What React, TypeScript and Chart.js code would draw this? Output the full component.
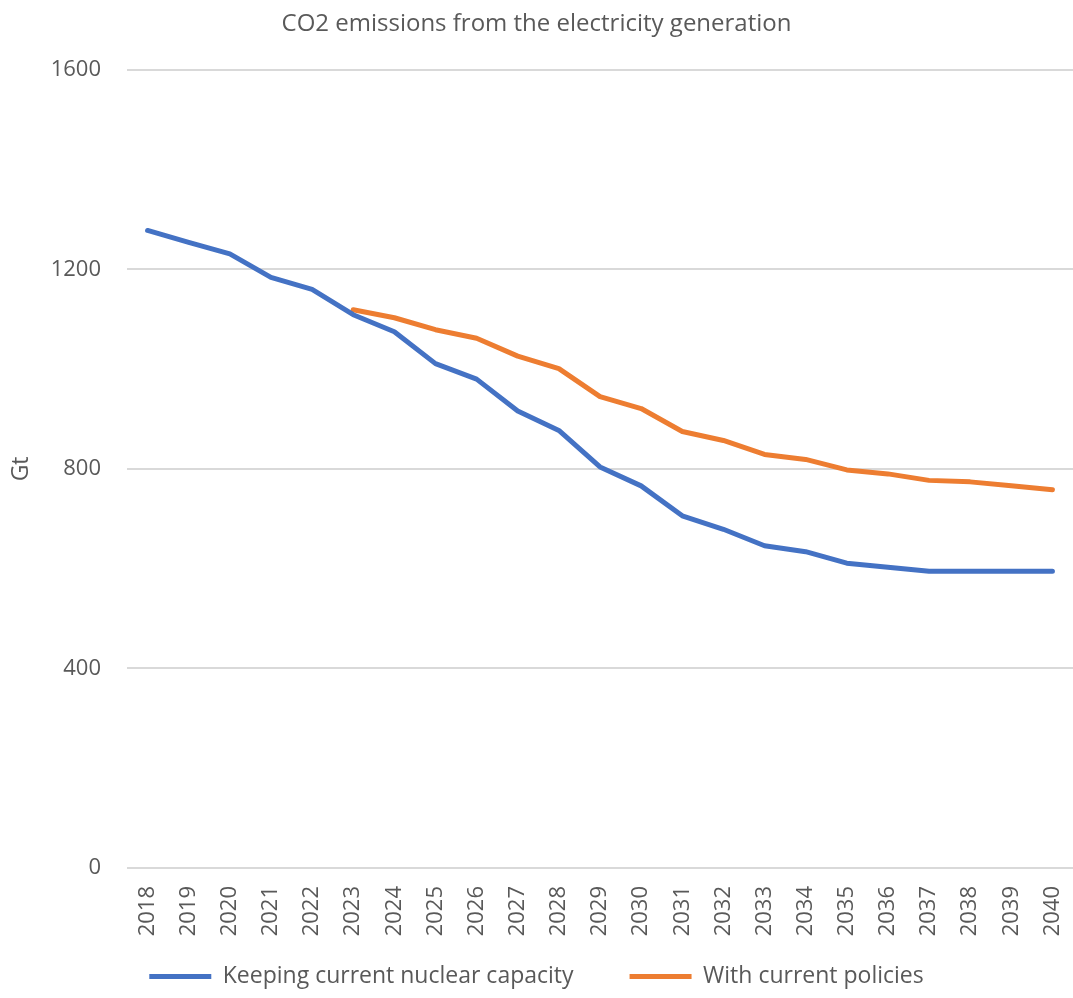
import React, { useEffect, useRef } from "react";
import { Chart, registerables } from "chart.js";

Chart.register(...registerables);

const years = [
  "2018", "2019", "2020", "2021", "2022", "2023", "2024", "2025", "2026", "2027", "2028",
  "2029", "2030", "2031", "2032", "2033", "2034", "2035", "2036", "2037", "2038", "2039", "2040",
];

const keepingNuclear = [
  1278, 1254, 1231, 1184, 1160, 1109, 1075, 1011, 980, 916, 877,
  804, 766, 706, 679, 646, 634, 611, 603, 595, 595, 595, 595,
];

const currentPolicies = [
  null, null, null, null, null, 1119, 1103, 1079, 1062, 1026, 1001,
  945, 921, 875, 857, 829, 819, 798, 790, 777, 774, 766, 758,
];

const yTicks = [0, 400, 800, 1200, 1600];

const FONT = "'Open Sans', sans-serif";
const GREY = "#595959";

export default function App() {
  const ref = useRef<HTMLCanvasElement | null>(null);

  useEffect(() => {
    document.body.style.margin = "0";
    const canvas = ref.current;
    if (!canvas) return;
    const chart = new Chart(canvas, {
      type: "line",
      data: {
        labels: years,
        datasets: [
          {
            label: "Keeping current nuclear capacity",
            data: keepingNuclear,
            borderColor: "#4472C4",
            backgroundColor: "#4472C4",
            borderWidth: 5,
            pointRadius: 0,
            tension: 0,
            borderCapStyle: "round",
            borderJoinStyle: "round",
          },
          {
            label: "With current policies",
            data: currentPolicies,
            borderColor: "#ED7D31",
            backgroundColor: "#ED7D31",
            borderWidth: 5,
            pointRadius: 0,
            tension: 0,
            borderCapStyle: "round",
            borderJoinStyle: "round",
          },
        ],
      },
      options: {
        responsive: false,
        animation: false,
        layout: { padding: { left: 0, right: 0, top: 0, bottom: 0 } },
        plugins: {
          title: {
            display: true,
            text: "CO2 emissions from the electricity generation",
            color: GREY,
            font: { family: FONT, size: 24, weight: "normal" },
            padding: { top: 10, bottom: 31 },
          },
          legend: {
            position: "bottom",
            labels: {
              color: GREY,
              font: { family: FONT, size: 23 },
              usePointStyle: true,
              pointStyle: "line",
              pointStyleWidth: 62,
              padding: 10,
              generateLabels: (c: any) => {
                const items = Chart.defaults.plugins.legend.labels.generateLabels(c);
                return items.map((it: any, i: number) =>
                  i < items.length - 1 ? { ...it, text: it.text + "\u2003\u2003" } : it
                );
              },
            },
          },
          tooltip: { enabled: false },
        },
        scales: {
          x: {
            offset: true,
            grid: { display: false, drawTicks: false },
            border: { display: false },
            ticks: {
              color: GREY,
              font: { family: FONT, size: 22 },
              maxRotation: 90,
              minRotation: 90,
              padding: 18,
              autoSkip: false,
            },
            afterFit: (scale: any) => {
              scale.height = 998 - 43 - 868;
              scale.paddingLeft = 0;
              scale.paddingRight = 0;
            },
          },
          y: {
            min: 0,
            max: 1600,
            afterBuildTicks: (scale: any) => {
              scale.ticks = yTicks.map((v) => ({ value: v }));
            },
            grid: { color: "#d9d9d9", lineWidth: 2, drawTicks: false },
            border: { display: false },
            ticks: {
              color: GREY,
              font: { family: FONT, size: 22 },
              padding: 26,
              callback: (v: any) => String(v),
            },
            title: {
              display: true,
              text: "Gt",
              color: GREY,
              font: { family: FONT, size: 23 },
              padding: { top: 8, bottom: 0 },
            },
            afterFit: (scale: any) => {
              scale.width = 127;
            },
          },
        },
      },
    });
    return () => chart.destroy();
  }, []);

  return <canvas ref={ref} width={1073} height={998} style={{ display: "block" }} />;
}
